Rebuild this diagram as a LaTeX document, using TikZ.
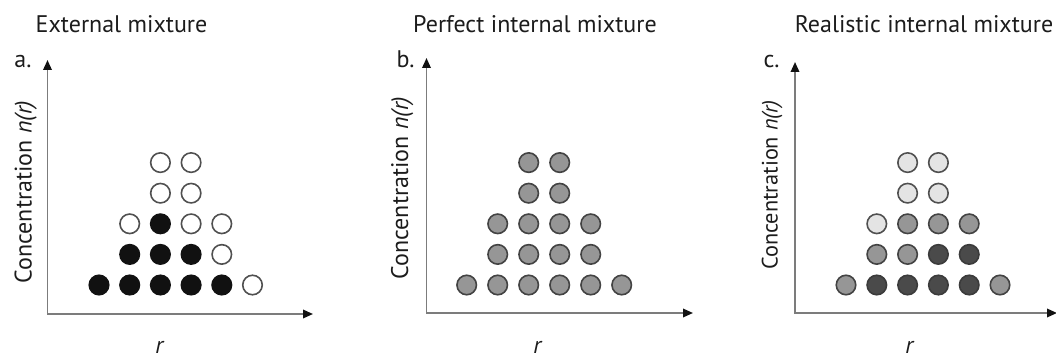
\documentclass[tikz,border=0pt]{standalone}
\usepackage{fontspec}
\setmainfont{PT Sans}
\usetikzlibrary{arrows.meta}

\definecolor{axisgray}{HTML}{7C7C7C}
\definecolor{textgray}{HTML}{1C1C1C}
\definecolor{ringgray}{HTML}{505050}
\definecolor{dotblack}{HTML}{111111}
\definecolor{dotgray}{HTML}{969696}
\definecolor{dotlight}{HTML}{E4E4E4}
\definecolor{dotdark}{HTML}{4A4A4A}

\tikzset{
  dot/.style={circle, draw=ringgray, line width=1.6pt, minimum size=19.5pt, inner sep=0pt},
  blk/.style={dot, fill=dotblack, draw=dotblack},
  wht/.style={dot, fill=white},
  gry/.style={dot, fill=dotgray, draw=dotdark!90!black},
  lgt/.style={dot, fill=dotlight},
  drk/.style={dot, fill=dotdark, draw=dotdark!80!black},
  axis/.style={draw=axisgray, line width=1.8pt, line join=miter,
    {Triangle[length=10pt, width=8.5pt, color=dotblack]}-{Triangle[length=10pt, width=8.5pt, color=dotblack]}},
  paneltitle/.style={anchor=base, text=textgray, font=\fontsize{24}{28}\selectfont},
  panellabel/.style={anchor=base, text=textgray, font=\fontsize{24}{28}\selectfont},
  ylab/.style={anchor=base, rotate=90, text=textgray, font=\fontsize{24}{28}\selectfont},
  xlab/.style={anchor=base, text=textgray, font=\fontsize{24}{28}\selectfont}
}

\begin{document}
\begin{tikzpicture}[x=1pt,y=-1pt]

        \useasboundingbox (0,0) rectangle (1056,358);

        % Panel a: external mixture
        \coordinate (a-o) at (47.5,314);
        \coordinate (a-y) at (47.5,60);
        \coordinate (a-x) at (313,314);
        \draw[axis] (a-y) -- (a-o) -- (a-x);
        \node[paneltitle] (a-title) at (121.5,33) {External mixture};
        \node[panellabel] (a-label) at (23,68) {a.};
        \node[ylab] (a-ylab) at (31.5,192) {Concentration \textit{n(r)}};
        \node[xlab] (a-xlab) at (160,353) {\textit{r}};
        \foreach \c/\r/\k in {0/0/blk,1/0/blk,2/0/blk,3/0/blk,4/0/blk,5/0/wht,
                              1/1/blk,2/1/blk,3/1/blk,4/1/wht,
                              1/2/wht,2/2/blk,3/2/wht,4/2/wht,
                              2/3/wht,3/3/wht,
                              2/4/wht,3/4/wht}
          \node[\k] (a-\c-\r) at ({99+30.7*\c},{285-30.6*\r}) {};

        % Panel b: perfect internal mixture
        \coordinate (b-o) at (426.5,313);
        \coordinate (b-y) at (426.5,58);
        \coordinate (b-x) at (693,313);
        \draw[axis] (b-y) -- (b-o) -- (b-x);
        \node[paneltitle] (b-title) at (535,33) {Perfect internal mixture};
        \node[panellabel] (b-label) at (405.5,68) {b.};
        \node[ylab] (b-ylab) at (408,188) {Concentration \textit{n(r)}};
        \node[xlab] (b-xlab) at (538,353) {\textit{r}};
        \foreach \c/\r in {0/0,1/0,2/0,3/0,4/0,5/0,
                           1/1,2/1,3/1,4/1,
                           1/2,2/2,3/2,4/2,
                           2/3,3/3,
                           2/4,3/4}
          \node[gry] (b-\c-\r) at ({466.7+31*\c},{285-30.6*\r}) {};

        % Panel c: realistic internal mixture
        \coordinate (c-o) at (795,313);
        \coordinate (c-y) at (795,62);
        \coordinate (c-x) at (1057,313);
        \draw[axis] (c-y) -- (c-o) -- (c-x);
        \node[paneltitle] (c-title) at (924,33) {Realistic internal mixture};
        \node[panellabel] (c-label) at (771.5,68) {c.};
        \node[ylab, font=\fontsize{22.3}{26}\selectfont] (c-ylab) at (777.5,185) {Concentration \textit{n(r)}};
        \node[xlab] (c-xlab) at (910,353) {\textit{r}};
        \foreach \c/\r/\k in {0/0/gry,1/0/drk,2/0/drk,3/0/drk,4/0/drk,5/0/gry,
                              1/1/gry,2/1/gry,3/1/drk,4/1/drk,
                              1/2/lgt,2/2/gry,3/2/gry,4/2/gry,
                              2/3/lgt,3/3/lgt,
                              2/4/lgt,3/4/lgt}
          \node[\k] (c-\c-\r) at ({846+30.8*\c},{285-30.6*\r}) {};

\end{tikzpicture}
\end{document}
